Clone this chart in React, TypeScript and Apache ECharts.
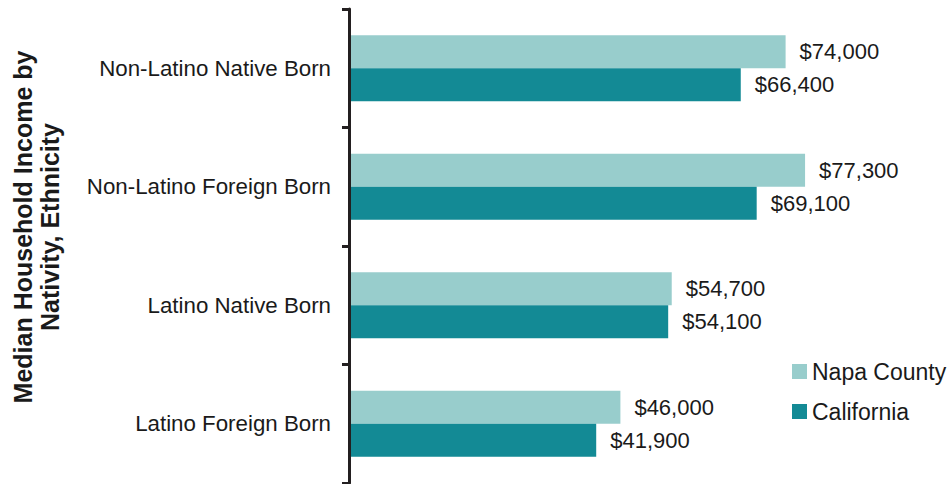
import React, { useEffect, useRef } from "react";
import * as echarts from "echarts";

const categories = [
  "Non-Latino Native Born",
  "Non-Latino Foreign Born",
  "Latino Native Born",
  "Latino Foreign Born",
];
const napaValues = [74000, 77300, 54700, 46000];
const californiaValues = [66400, 69100, 54100, 41900];
const seriesNames = ["Napa County", "California"];
const axisTitle = "Median Household Income by\nNativity, Ethnicity";

const FONT = "'Liberation Sans', Arial, sans-serif";
const TEXT = "#1a1a1a";

export default function App() {
  const ref = useRef<HTMLDivElement>(null);
  useEffect(() => {
    if (!ref.current) return;
    const chart = echarts.init(ref.current, null, { renderer: "svg" });
    const fmt = (v: number) => "$" + v.toLocaleString("en-US");
    chart.setOption({
      animation: false,
      backgroundColor: "#ffffff",
      grid: { left: 349, top: 9, width: 590, height: 474, containLabel: false },
      xAxis: {
        type: "value",
        min: 0,
        max: 100000,
        show: false,
      },
      yAxis: {
        type: "category",
        data: categories,
        inverse: true,
        z: 5,
        axisLine: { show: true, lineStyle: { color: "#231f20", width: 3 } },
        axisTick: { show: true, length: 7, lineStyle: { color: "#231f20", width: 3 } },
        axisLabel: { fontSize: 22.3, fontFamily: FONT, color: TEXT, margin: 18 },
        splitLine: { show: false },
      },
      legend: {
        orient: "vertical",
        left: 787,
        top: 355,
        itemWidth: 15,
        itemHeight: 15,
        itemGap: 17,
        icon: "rect",
        textStyle: { fontSize: 23, fontFamily: FONT, color: TEXT, padding: [0, 0, 0, 0] },
        data: seriesNames,
      },
      graphic: [
        {
          type: "text",
          x: 36,
          y: 227,
          rotation: Math.PI / 2,
          style: {
            text: axisTitle,
            font: `bold 25px ${FONT}`,
            fill: TEXT,
            textAlign: "center",
            textVerticalAlign: "middle",
            lineHeight: 27,
          },
        },
      ],
      series: [
        {
          name: seriesNames[0],
          type: "bar",
          data: napaValues,
          barWidth: 33,
          barGap: "0%",
          itemStyle: { color: "#98cdcc" },
          label: {
            show: true,
            position: "right",
            distance: 14,
            fontSize: 22,
            fontFamily: FONT,
            color: TEXT,
            formatter: (p: any) => fmt(p.value),
          },
        },
        {
          name: seriesNames[1],
          type: "bar",
          data: californiaValues,
          barWidth: 33,
          barGap: "0%",
          itemStyle: { color: "#138a95" },
          label: {
            show: true,
            position: "right",
            distance: 14,
            fontSize: 22,
            fontFamily: FONT,
            color: TEXT,
            formatter: (p: any) => fmt(p.value),
          },
        },
      ],
    });
    return () => chart.dispose();
  }, []);
  return (
    <div
      ref={ref}
      style={{ position: "fixed", left: 0, top: 0, width: 949, height: 484 }}
    />
  );
}
